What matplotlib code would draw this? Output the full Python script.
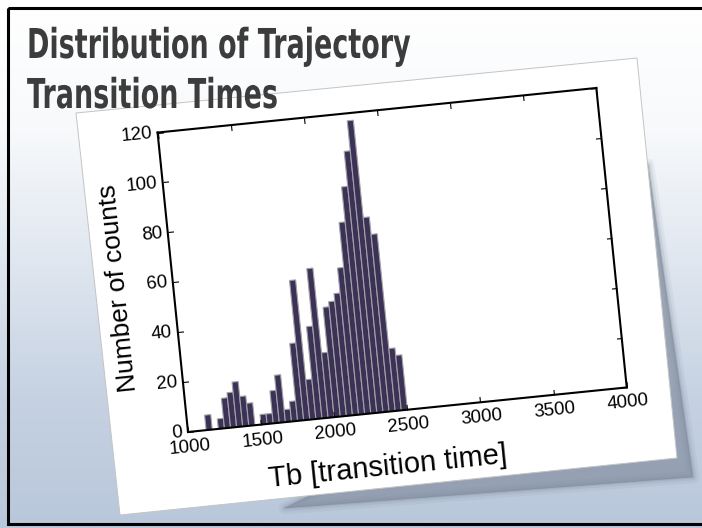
import numpy as np
import matplotlib
matplotlib.use("Agg")
import matplotlib.pyplot as plt
from matplotlib import patheffects
from matplotlib.colors import LinearSegmentedColormap
from matplotlib.patches import Polygon, Rectangle
from matplotlib.transforms import Affine2D
import mpl_toolkits.axisartist.floating_axes as floating_axes
from mpl_toolkits.axisartist.grid_finder import FixedLocator, DictFormatter

plt.rcParams['font.family'] = ['Liberation Sans', 'DejaVu Sans']

# histogram: 33 equal bins between 1124 and 2500
bin_range = (1124, 2500)
counts = [6, 0, 4, 12, 14, 18, 12, 9, 0, 4, 4, 13, 19, 5, 8, 31, 56, 16, 37, 60,
          26, 44, 46, 49, 59, 77, 91, 105, 117, 78, 71, 25, 22]
xticks = [1000, 1500, 2000, 2500, 3000, 3500, 4000]
yticks = [0, 20, 40, 60, 80, 100, 120]
x_range = (1000, 4000)
y_range = (0, 120)
title_lines = ["Distribution of Trajectory", "Transition Times"]
xlabel = "Tb [transition time]"
ylabel = "Number of counts"


class Squash(patheffects.AbstractPathEffect):
    """Narrow and stretch glyphs about the text origin (condensed headline look)."""

    def __init__(self, sx, sy):
        super().__init__()
        self.sx, self.sy = sx, sy

    def draw_path(self, renderer, gc, tpath, affine, rgbFace=None):
        affine = Affine2D().scale(self.sx, self.sy) + affine
        renderer.draw_path(gc, tpath, affine, rgbFace)


FW, FH = 702, 528
fig = plt.figure(figsize=(FW / 100, FH / 100), dpi=100)

# slide background, drawn in pixel coordinates
bg = fig.add_axes([0, 0, 1, 1])
bg.set_xlim(0, FW)
bg.set_ylim(FH, 0)
bg.axis('off')
slide = LinearSegmentedColormap.from_list(
    'slide', ['#ffffff', '#f7f9fb', '#dfe6ef', '#c6d2e2', '#b9c7db'])
bg.imshow(np.linspace(0, 1, 256)[:, None], cmap=slide, aspect='auto',
          extent=(0, FW, FH, 0), zorder=0)

# tilted photo: soft shadow then white paper
shadow = [(648, 165), (693, 477), (285, 508), (500, 400)]
for lw, a in [(9, 0.10), (5, 0.16), (2, 0.25), (0.5, 0.35)]:
    bg.add_patch(Polygon(shadow, closed=True, fc='#7f8a9c', ec='#7f8a9c',
                         lw=lw, alpha=a, joinstyle='round', zorder=1))
paper = [(76, 113), (637, 58), (677, 458), (120, 515)]
bg.add_patch(Polygon(paper, closed=True, fc='white', ec='#c4c4c4', lw=0.7, zorder=2))

# slide frame
bg.add_patch(Rectangle((8, 8), 705, 516, fill=False, ec='black', lw=2.2, zorder=3))

# title
t1 = bg.text(27, 58, title_lines[0], fontsize=30, fontweight='bold',
             family='DejaVu Sans', color='#3c3c3c', zorder=4)
t2 = bg.text(27, 108, title_lines[1], fontsize=30, fontweight='bold',
             family='DejaVu Sans', color='#3c3c3c', zorder=4)

# rotated histogram axes
tilt = 5.8
box_w, box_h = 441.0, 301.0
bl_x, bl_y = 188.0, 432.0
sx = box_w / (x_range[1] - x_range[0])
sy = box_h / (y_range[1] - y_range[0])
tr = Affine2D().translate(-x_range[0], 0).scale(sx, sy).rotate_deg(tilt)

gh = floating_axes.GridHelperCurveLinear(
    tr, extremes=(x_range[0], x_range[1], y_range[0], y_range[1]),
    grid_locator1=FixedLocator(xticks),
    grid_locator2=FixedLocator(yticks),
    tick_formatter1=DictFormatter({v: str(v) for v in xticks}),
    tick_formatter2=DictFormatter({v: str(v) for v in yticks}))

ang = np.deg2rad(tilt)
bw = box_w * np.cos(ang) + box_h * np.sin(ang)
bh = box_w * np.sin(ang) + box_h * np.cos(ang)
cx = bl_x - box_h * np.sin(ang) + bw / 2
cy = bl_y - bh / 2
ew, eh = bw * 1.02, bh * 1.02
rect = [(cx - ew / 2) / FW, (FH - (cy + eh / 2)) / FH, ew / FW, eh / FH]

ax = fig.add_axes(rect, axes_class=floating_axes.FloatingAxes, grid_helper=gh)
aux = ax.get_aux_axes(tr)

edges = np.linspace(bin_range[0], bin_range[1], len(counts) + 1)
aux.bar(edges[:-1], counts, width=np.diff(edges), align='edge',
        color='#3b3256', edgecolor='#a2a2a8', linewidth=0.8)

for side in ["left", "right", "top", "bottom"]:
    ax.axis[side].line.set_linewidth(1.5)
    ax.axis[side].major_ticks.set_ticksize(4)
for side in ["left", "bottom"]:
    ax.axis[side].major_ticklabels.set_fontsize(13.5)
ax.axis["bottom"].major_ticklabels.set_pad(5)
ax.axis["left"].major_ticklabels.set_pad(4)
ax.axis["left"].label.set_text(ylabel)
ax.axis["left"].label.set_fontsize(19)
ax.axis["left"].label.set_pad(4)
# x label sits left of centre on the original figure
aux.text(2330, -22, xlabel, fontsize=21, rotation=tilt, rotation_mode='anchor',
         ha='center', va='center')

# fit title size to the slide's line width, then squash into a tall narrow face
fig.canvas.draw()
r = fig.canvas.get_renderer()
w1 = t1.get_window_extent(r).width
size = 30 * 383 / w1 * 1.25
for t in (t1, t2):
    t.set_fontsize(size)
    t.set_path_effects([Squash(0.8, 1.22)])

fig.savefig("out.png", dpi=100)
